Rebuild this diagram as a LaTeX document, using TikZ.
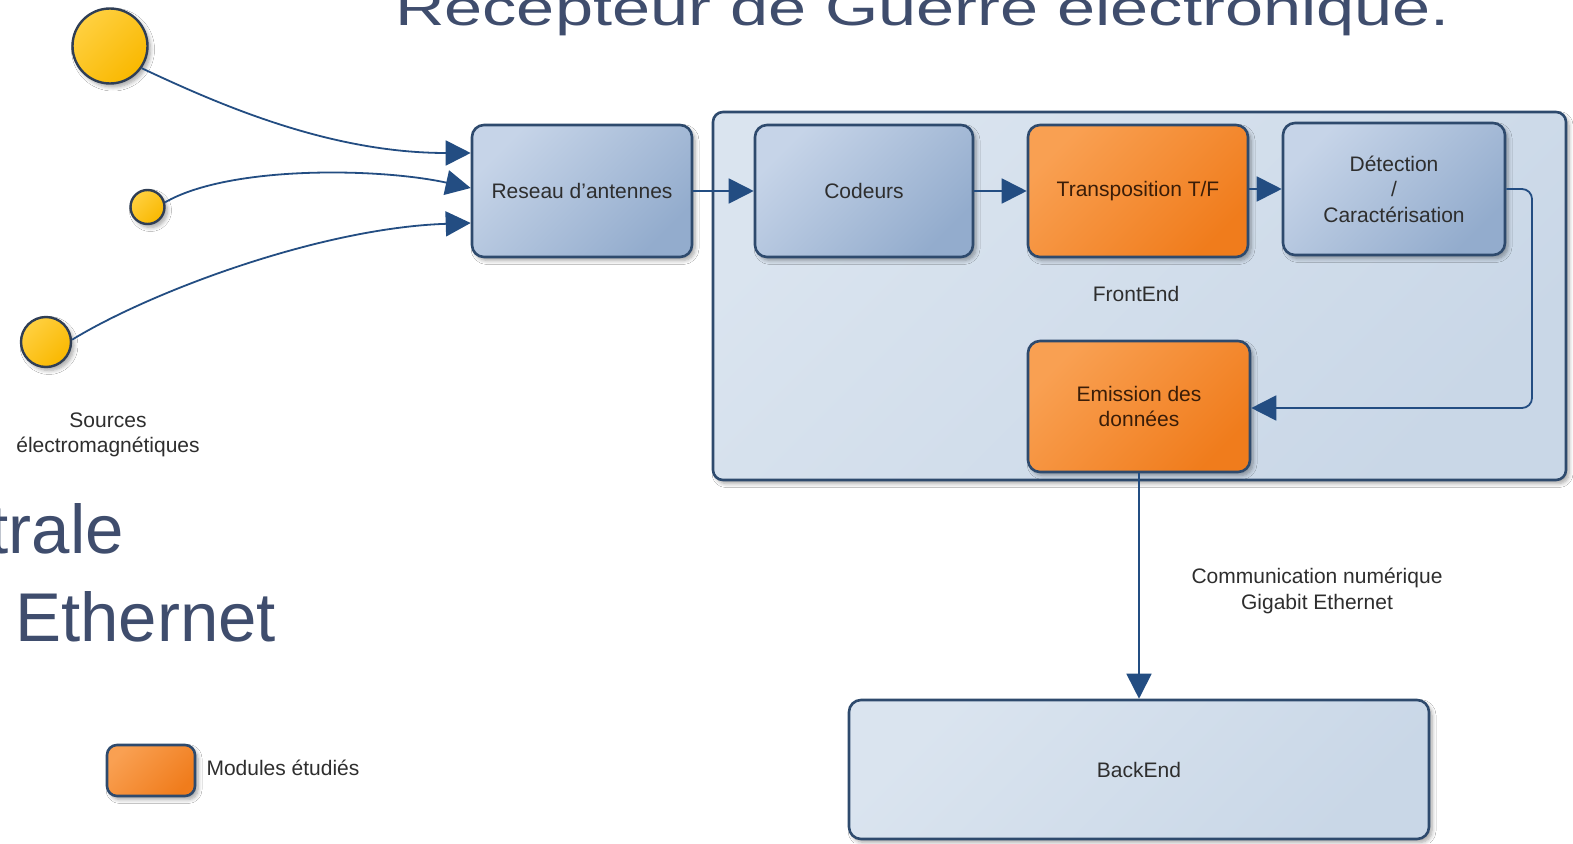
\documentclass[tikz,border=0pt]{standalone}
\usepackage{fontspec}
\setmainfont{Liberation Sans}
\usetikzlibrary{arrows.meta,shadows.blur}

\definecolor{boxline}{HTML}{2E4A6D}
\definecolor{arrowc}{HTML}{234D82}
\definecolor{bluetl}{HTML}{C6D4E8}
\definecolor{bluebr}{HTML}{93ACCD}
\definecolor{orangetl}{HTML}{F9A052}
\definecolor{orangebr}{HTML}{F07C1C}
\definecolor{paneltl}{HTML}{DAE4EF}
\definecolor{panelbr}{HTML}{C9D7E7}
\definecolor{sunlight}{HTML}{FFD040}
\definecolor{sunfill}{HTML}{F9B800}
\definecolor{sunedge}{HTML}{2F3E55}
\definecolor{titlec}{HTML}{3F4D6D}
\definecolor{labelc}{HTML}{2E2E2E}
\definecolor{browntext}{HTML}{3A1D08}

\tikzset{
  softshadow/.style={blur shadow={shadow xshift=3pt, shadow yshift=-3.5pt,
      shadow blur radius=4pt, shadow blur steps=6, shadow opacity=35}},
  block/.style={draw=boxline, line width=2.6pt, rounded corners=12pt,
      minimum width=220pt, minimum height=132pt, inner sep=0pt,
      align=center, font=\fontsize{21}{25.5}\selectfont, text=labelc, softshadow},
  blueblock/.style={block, top color=bluetl, bottom color=bluebr, shading angle=45},
  orangeblock/.style={block, top color=orangetl, bottom color=orangebr,
      shading angle=45, text=browntext},
  panel/.style={draw=boxline, line width=2.6pt, rounded corners=10pt,
      inner sep=0pt, top color=paneltl, bottom color=panelbr, shading angle=45,
      softshadow},
  sun/.style={circle, draw=sunedge, line width=2.4pt, inner sep=0pt,
      top color=sunlight, bottom color=sunfill, shading angle=45, softshadow},
  conn/.style={draw=arrowc, line width=1.8pt,
      -{Triangle[length=25pt,width=25pt]}, color=arrowc},
  caption/.style={align=center, font=\fontsize{21}{25.5}\selectfont, text=labelc},
  slidetext/.style={inner sep=0pt, text=titlec},
}

\begin{document}
\begin{tikzpicture}[x=1pt, y=-1pt]
  \useasboundingbox (0,0) rectangle (1573,843);
  \fill[white] (0,0) rectangle (1573,843);
  \clip (0,0) rectangle (1573,843);

  % slide text behind the diagram
  \node[slidetext, anchor=base west, font=\fontsize{50}{50}\selectfont]
    (title) at (395,26) {\scalebox{1.37}[1]{Récepteur de Guerre électronique.}};
  \node[slidetext, anchor=base east, font=\fontsize{69}{69}\selectfont]
    (line1) at (124,553) {trale};
  \node[slidetext, anchor=base west, font=\fontsize{69}{69}\selectfont]
    (line2) at (15,641) {Ethernet};

  % FrontEnd panel
  \node[panel, minimum width=853pt, minimum height=368pt] (frontend) at (1139.5,296) {};
  \node[caption] (frontlabel) at (1136,294) {FrontEnd};

  % electromagnetic sources
  \node[sun, minimum size=75pt] (s1) at (110,46) {};
  \node[sun, minimum size=34pt] (s2) at (147.5,207) {};
  \node[sun, minimum size=50pt] (s3) at (46,342) {};
  \node[caption] (srclabel) at (108,435) {Sources\\électromagnétiques};

  % processing chain
  \node[blueblock] (reseau) at (582,191) {Reseau d'antennes};
  \node[blueblock, minimum width=218pt] (codeurs) at (864,191) {Codeurs};
  \node[orangeblock] (transpo) at (1138,191) {Transposition T/F};
  \node[blueblock, minimum width=222pt] (detect) at (1394,189)
    {Détection\\/\\Caractérisation};
  \node[orangeblock, minimum width=222pt, minimum height=131pt] (emission)
    at (1139,406.5) {Emission des\\données};
  \node[blueblock, top color=paneltl, bottom color=panelbr, shading angle=45,
    minimum width=580pt, minimum height=139pt] (backend) at (1139,769.5) {BackEnd};

  % legend
  \node[orangeblock, rounded corners=10pt, minimum width=88pt, minimum height=51pt]
    (legendbox) at (151,770.5) {};
  \node[caption, anchor=west] (legendtext) at (203,768) {Modules étudiés};

  \node[caption] (comlabel) at (1317,591) {Communication numérique\\Gigabit Ethernet};

  % connectors
  \draw[conn] (s1.-35) .. controls (220,105) and (330,153) .. ([yshift=38pt]reseau.west);
  \draw[conn] (s2.15) .. controls (230,165) and (380,168) .. ([yshift=3pt]reseau.west);
  \draw[conn] (s3.5) .. controls (150,292) and (320,228) .. ([yshift=-32pt]reseau.west);

  \draw[conn] (reseau.east) -- (codeurs.west);
  \draw[conn] (codeurs.east) -- (transpo.west);
  \draw[conn] ([yshift=2pt]transpo.east) -- (detect.west);

  \coordinate (turn) at (1532,408);
  \draw[conn, rounded corners=10pt] (detect.east) -| (turn) -- (emission.east |- turn);

  \draw[conn] (emission.south) -- (backend.north);
\end{tikzpicture}
\end{document}
